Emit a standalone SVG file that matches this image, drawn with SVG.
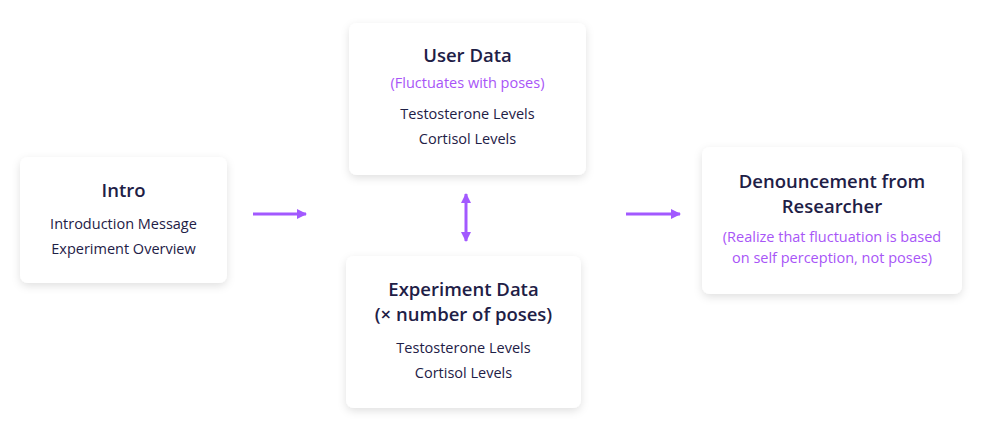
<svg xmlns="http://www.w3.org/2000/svg" width="982" height="431" viewBox="0 0 982 431">
<defs>
<filter id="sh" x="-20%" y="-20%" width="140%" height="150%">
<feDropShadow dx="0" dy="3" stdDeviation="4" flood-color="#000" flood-opacity="0.12"/>
</filter>
<marker id="ah" viewBox="0 0 10 10" refX="9" refY="5" markerWidth="10" markerHeight="10" markerUnits="userSpaceOnUse" orient="auto-start-reverse">
<path d="M0,0 L10,5 L0,10 z" fill="#a259ff"/>
</marker>
</defs>
<style>
.box{fill:#fff;filter:url(#sh)}
text{font-family:"Open Sans","Noto Sans",sans-serif;text-anchor:middle;fill:#1e2046}
.t{font-size:18.5px;font-weight:600}
.b{font-size:14.5px}
.p{font-size:14.5px;fill:#a855f7}
.c{stroke:#a259ff;stroke-width:3;fill:none}
</style>
<rect width="982" height="431" fill="#fff"/>
<g id="intro">
<rect class="box" x="20" y="157" width="207" height="126" rx="8"/>
<text class="t" x="123.5" y="197">Intro</text>
<text class="b" x="123.5" y="229">Introduction Message</text>
<text class="b" x="123.5" y="254">Experiment Overview</text>
</g>
<g id="user-data">
<rect class="box" x="349" y="23" width="237" height="152" rx="8"/>
<text class="t" x="467.5" y="62">User Data</text>
<text class="p" x="467.5" y="88">(Fluctuates with poses)</text>
<text class="b" x="467.5" y="119">Testosterone Levels</text>
<text class="b" x="467.5" y="144">Cortisol Levels</text>
</g>
<g id="experiment-data">
<rect class="box" x="346" y="256" width="235" height="152" rx="8"/>
<text class="t" x="463.5" y="296">Experiment Data</text>
<text class="t" x="463.5" y="321">(× number of poses)</text>
<text class="b" x="463.5" y="353">Testosterone Levels</text>
<text class="b" x="463.5" y="378">Cortisol Levels</text>
</g>
<g id="denouncement">
<rect class="box" x="702" y="147" width="260" height="147" rx="8"/>
<text class="t" x="832" y="188">Denouncement from</text>
<text class="t" x="832" y="213">Researcher</text>
<text class="p" x="832" y="242">(Realize that fluctuation is based</text>
<text class="p" x="832" y="263">on self perception, not poses)</text>
</g>
<g id="connectors">
<line class="c" x1="253" y1="214" x2="306" y2="214" marker-end="url(#ah)"/>
<line class="c" x1="626" y1="214" x2="680" y2="214" marker-end="url(#ah)"/>
<line class="c" x1="466" y1="194" x2="466" y2="241" marker-start="url(#ah)" marker-end="url(#ah)"/>
</g>
</svg>
